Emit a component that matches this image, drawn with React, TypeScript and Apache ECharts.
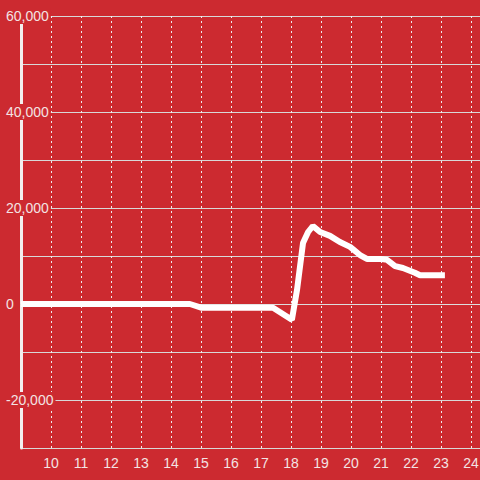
import React, { useEffect, useRef } from "react";
import * as echarts from "echarts";

const xValues = [9, 14.63, 15.03, 17.4, 18.03, 18.2, 18.4, 18.57, 18.73, 18.97, 19.3, 19.63, 19.97, 20.3, 20.53, 20.97, 21.2, 21.47, 21.73, 22.13, 22.3, 23.13];
const yValues = [0, 0, -800, -800, -3300, 2900, 12700, 15000, 16250, 15000, 14200, 12900, 11900, 10200, 9400, 9400, 9200, 7900, 7500, 6500, 6000, 6000];

const BG = "#cc2a30";
const FONT = "Liberation Sans, Arial, sans-serif";

export default function App() {
  const ref = useRef<HTMLDivElement>(null);
  useEffect(() => {
    const chart = echarts.init(ref.current!, undefined, { renderer: "svg" });
    const data = xValues.map((x, i) => [x, yValues[i]]);
    chart.setOption({
      animation: false,
      backgroundColor: BG,
      grid: { left: 21, right: 0, top: 16, bottom: 32, outerBoundsMode: "none", containLabel: false },
      xAxis: {
        type: "value",
        min: 9,
        max: 24.3,
        interval: 1,
        axisLine: { show: true, lineStyle: { color: "#ddd", width: 1 } },
        axisTick: { show: false },
        axisLabel: {
          color: "#f3e3e3",
          fontSize: 14,
          fontFamily: FONT,
          margin: 8,
          showMinLabel: false,
          showMaxLabel: false,
          formatter: (v: number) => (Number.isInteger(v) && v > 9 ? String(v) : ""),
        },
        splitLine: { show: true, lineStyle: { color: "#eee", type: [2, 3], width: 1 } },
      },
      yAxis: {
        type: "value",
        min: -30000,
        max: 60000,
        interval: 10000,
        axisLine: { show: true, lineStyle: { color: "#f3eeee", width: 3 } },
        axisTick: { show: false },
        axisLabel: {
          color: "#f3e3e3",
          fontSize: 14,
          fontFamily: FONT,
          align: "left",
          margin: 16,
          backgroundColor: BG,
          padding: [1, 2, 1, 1],
          formatter: (v: number) =>
            v % 20000 === 0 ? v.toLocaleString("en-US") : "",
        },
        splitLine: { show: true, lineStyle: { color: "#d8d8d8", width: 1 } },
      },
      series: [
        {
          type: "line",
          data,
          showSymbol: false,
          symbol: "none",
          lineStyle: { color: "#ffffff", width: 6 },
          z: 5,
        },
      ],
    });
    return () => chart.dispose();
  }, []);
  return (
    <div
      ref={ref}
      style={{ position: "fixed", left: 0, top: 0, width: 480, height: 480 }}
    />
  );
}
